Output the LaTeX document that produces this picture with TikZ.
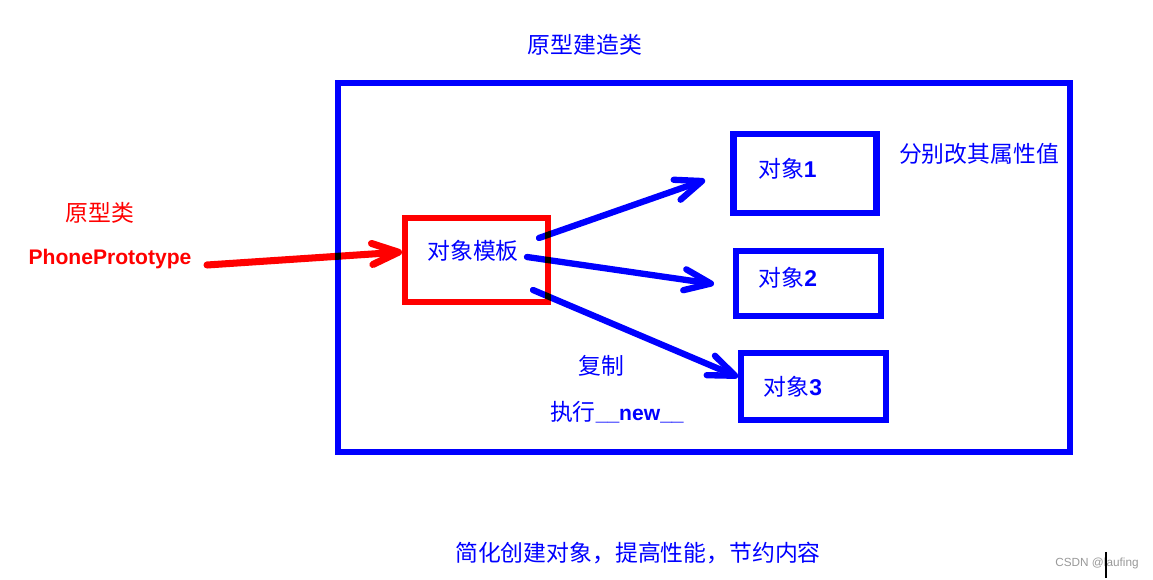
\documentclass[tikz,border=0pt]{standalone}
\usepackage{fontspec}
\setmainfont{Liberation Sans}
\newfontfamily\cjk{Noto Sans CJK SC}
\usetikzlibrary{arrows.meta}

\begin{document}
\begin{tikzpicture}[x=0.02cm, y=-0.02cm,
    box/.style = {draw, line width=3.7pt, inner sep=0pt},
    cjktext/.style = {inner sep=1pt, font=\cjk\fontsize{13}{15}\selectfont},
    lattext/.style = {inner sep=1pt, font=\bfseries\fontsize{12}{14}\selectfont},
    arr/.style = {line width=3.6pt, line cap=round, blend mode=multiply,
        -{Straight Barb[length=15pt, width=12pt, line cap=round, line join=round]}}]

\useasboundingbox (0,0) rectangle (1153,580);

    % Builder frame
    \node[box, draw=blue, minimum width=14.64cm, minimum height=7.38cm] (builder) at (704,267.5) {};
    \node[cjktext, text=blue] (buildertitle) at (585,45) {原型建造类};

    % Prototype class
    \node[cjktext, text=red] (protolabel) at (100,213) {原型类};
    \node[lattext, text=red] (proto) at (110,259) {PhonePrototype};

    % Template and copies
    \node[box, draw=red, minimum width=2.86cm, minimum height=1.68cm] (tpl) at (476.5,260) {};
    \node[cjktext, text=blue] (tpltext) at (473,251) {对象模板};

    \node[box, draw=blue, minimum width=2.86cm, minimum height=1.59cm] (obj1) at (805,173.5) {};
    \node[cjktext, text=blue] (obj1text) at (787.5,169) {对象\textbf{\fontspec{Liberation Sans}1}};
    \node[box, draw=blue, minimum width=2.9cm, minimum height=1.31cm] (obj2) at (808.5,283.5) {};
    \node[cjktext, text=blue] (obj2text) at (788,278) {对象\textbf{\fontspec{Liberation Sans}2}};
    \node[box, draw=blue, minimum width=2.9cm, minimum height=1.35cm] (obj3) at (813.5,386.5) {};
    \node[cjktext, text=blue] (obj3text) at (793,387) {对象\textbf{\fontspec{Liberation Sans}3}};

    \node[cjktext, text=blue] (modify) at (979,154) {分别改其属性值};
    \node[cjktext, text=blue] (copy) at (601,366) {复制};
    \node[cjktext, text=blue] (runnew) at (617,412) {执行\textbf{\fontspec{Liberation Sans}\fontsize{12}{14}\selectfont\_\_new\_\_}};

    % Arrow ends
    \coordinate (protoout) at (207,265);
    \coordinate (tplin) at (402,252);
    \coordinate (tplout1) at (539,238);
    \coordinate (tplout2) at (527,257);
    \coordinate (tplout3) at (533,290);
    \coordinate (obj1in) at (705,180);
    \coordinate (obj2in) at (714,284);
    \coordinate (obj3in) at (738,377);

    \draw[arr, red, line width=4pt] (protoout) -- (tplin);
    \draw[arr, blue] (tplout1) -- (obj1in);
    \draw[arr, blue] (tplout2) -- (obj2in);
    \draw[arr, blue] (tplout3) -- (obj3in);

    % Summary
    \node[cjktext, text=blue] (summary) at (638,553) {简化创建对象，提高性能，节约内容};

    % Watermark
    \node[inner sep=0pt, text=gray!80, font=\fontsize{6.7}{8}\selectfont] (mark) at (1097,563) {CSDN @laufing};
    \draw[line width=1.1pt] (1106,552) -- (1106,578);
\end{tikzpicture}
\end{document}
